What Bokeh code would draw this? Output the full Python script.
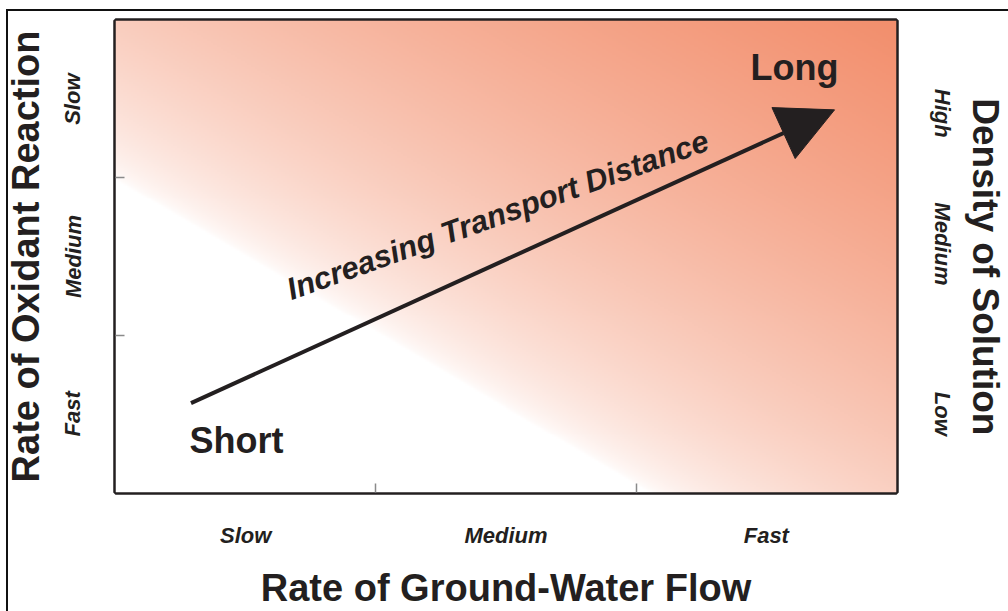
import numpy as np
from bokeh.plotting import figure
from bokeh.models import FixedTicker, LinearAxis, Range1d, Label, Arrow, NormalHead
from bokeh.embed import file_html
from bokeh.resources import INLINE

# ---- data / text ----
flow_categories = ["Slow", "Medium", "Fast"]          # x axis (ground-water flow)
reaction_categories = ["Fast", "Medium", "Slow"]      # left axis, bottom -> top
density_categories = ["Low", "Medium", "High"]        # right axis, bottom -> top
x_title = "Rate of Ground-Water Flow"
left_title = "Rate of Oxidant Reaction"
right_title = "Density of Solution"
end_labels = ["Short", "Long"]
arrow_label = "Increasing Transport Distance"

INK = "#231f20"
FONT = "Liberation Sans"

W, H = 1008, 611
p = figure(width=W, height=H, x_range=Range1d(0, 3), y_range=Range1d(0, 3),
           output_backend="svg", toolbar_location=None,
           min_border_left=115, min_border_right=111,
           min_border_top=20, min_border_bottom=116)
p.grid.visible = False
p.background_fill_color = "white"
p.border_fill_color = None
p.outline_line_color = INK
p.outline_line_width = 4.5
# thin outer border (left and top edges) drawn by the page background
p.styles = {"background": "linear-gradient(#111111,#111111) 6px 9px / 2px 100% no-repeat, "
                          "linear-gradient(#111111,#111111) 6px 9px / 100% 2px no-repeat, #ffffff"}

# ---- gradient background (style only) ----
nx, ny = 391, 238
fw, fh = 782.0, 475.0
u = (np.arange(nx) + 0.5) / nx
v = (np.arange(ny) + 0.5) / ny
px = u[None, :] * fw
py = (1 - v[:, None]) * fh
d = 0.507 * px - 0.862 * (py - 160.0)
r = np.clip(d / 534.0, 0, 1) ** 0.6
C = np.array([242, 142, 108], dtype=float)
img = np.empty((ny, nx), dtype=np.uint32)
view = img.view(dtype=np.uint8).reshape((ny, nx, 4))
for k in range(3):
    view[:, :, k] = np.round(255 - r * (255 - C[k])).astype(np.uint8)
view[:, :, 3] = 255
p.image_rgba(image=[img], x=0, y=0, dw=3, dh=3)

# ---- axes ----
cat_ticks = [0.5, 1.5, 2.5]

def style_axis(ax, ticks, labels, standoff, vertical):
    ax.ticker = FixedTicker(ticks=ticks, minor_ticks=[1, 2])
    ax.major_label_overrides = {t: lab for t, lab in zip(ticks, labels)}
    ax.axis_line_color = None
    ax.major_tick_line_color = None
    ax.minor_tick_line_color = "#8a8a8a"
    ax.minor_tick_line_width = 1.5
    ax.minor_tick_in = 9
    ax.minor_tick_out = 0
    ax.major_label_text_font = FONT
    ax.major_label_text_font_style = "bold italic"
    ax.major_label_text_font_size = "22px"
    ax.major_label_text_color = INK
    ax.major_label_standoff = standoff
    if vertical:
        ax.major_label_orientation = "vertical"

def style_title(ax, text, standoff, size):
    ax.axis_label = text
    ax.axis_label_standoff = standoff
    ax.axis_label_text_font = FONT
    ax.axis_label_text_font_style = "bold"
    ax.axis_label_text_font_size = size
    ax.axis_label_text_color = INK

xa = p.xaxis[0]
style_axis(xa, cat_ticks, flow_categories, 24, False)
style_title(xa, x_title, 16, "38px")

ya = p.yaxis[0]
style_axis(ya, cat_ticks, reaction_categories, 24, True)
style_title(ya, left_title, 11, "38px")

# right axis: category labels
ra = LinearAxis()
style_axis(ra, [0.5, 1.58, 2.41], density_categories, 27, True)
ra.minor_tick_line_color = None
p.add_layout(ra, "right")

# outer right axis carrying the title, reading bottom-to-top like the reference
title_pos = 1.434
ra2 = LinearAxis()
ra2.ticker = FixedTicker(ticks=[title_pos], minor_ticks=[])
ra2.major_label_overrides = {title_pos: right_title}
ra2.axis_line_color = None
ra2.major_tick_line_color = None
ra2.minor_tick_line_color = None
ra2.major_label_orientation = "vertical"
ra2.major_label_standoff = 1
ra2.major_label_text_font = FONT
ra2.major_label_text_font_style = "bold"
ra2.major_label_text_font_size = "37px"
ra2.major_label_text_color = INK
p.add_layout(ra2, "right")

# ---- arrow and labels ----
p.add_layout(Arrow(x_start=0.29, y_start=0.568, x_end=2.762, y_end=2.432,
                   line_width=4, line_color=INK,
                   end=NormalHead(size=56, fill_color=INK, line_color=INK, line_width=1)))

p.add_layout(Label(x=0.465, y=0.329, text=end_labels[0], text_align="center",
                   text_baseline="alphabetic", text_font=FONT,
                   text_font_style="bold", text_font_size="36px", text_color=INK))
p.add_layout(Label(x=2.608, y=2.70, text=end_labels[1], text_align="center",
                   text_baseline="alphabetic", text_font=FONT,
                   text_font_style="bold", text_font_size="36px", text_color=INK))
p.add_layout(Label(x=1.468, y=1.764, text=arrow_label, angle=0.345,
                   text_align="center", text_baseline="middle", text_font=FONT,
                   text_font_style="bold italic", text_font_size="31px", text_color=INK))

open("out.html", "w").write(file_html(p, INLINE))
